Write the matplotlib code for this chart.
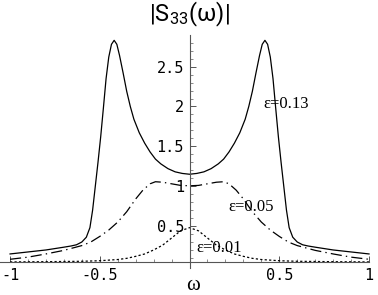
import matplotlib
matplotlib.use("Agg")
import matplotlib.pyplot as plt
from matplotlib.ticker import FixedLocator, FixedFormatter

# ---- data ----
w_a = [-1.0, -0.9, -0.8, -0.7, -0.66, -0.63, -0.60, -0.575, -0.555, -0.54, -0.525, -0.51,
       -0.495, -0.48, -0.465, -0.45, -0.435, -0.42, -0.405, -0.39, -0.37, -0.35, -0.33,
       -0.31, -0.28, -0.25, -0.22, -0.19, -0.16, -0.12, -0.08, -0.04, 0.0,
       0.04, 0.08, 0.12, 0.16, 0.19, 0.22, 0.25, 0.28, 0.31, 0.33, 0.35, 0.37, 0.39,
       0.405, 0.42, 0.435, 0.45, 0.465, 0.48, 0.495, 0.51, 0.525, 0.54, 0.555, 0.575,
       0.60, 0.63, 0.66, 0.7, 0.8, 0.9, 1.0]
s_a = [0.15, 0.175, 0.20, 0.235, 0.25, 0.265, 0.30, 0.36, 0.48, 0.70, 1.00, 1.30,
       1.62, 1.98, 2.35, 2.62, 2.78, 2.83, 2.78, 2.64, 2.42, 2.19, 2.00,
       1.84, 1.67, 1.54, 1.43, 1.34, 1.28, 1.22, 1.18, 1.16, 1.15,
       1.16, 1.18, 1.22, 1.28, 1.34, 1.43, 1.54, 1.67, 1.84, 2.00, 2.19, 2.42, 2.64,
       2.78, 2.83, 2.78, 2.62, 2.35, 1.98, 1.62, 1.30, 1.00, 0.70, 0.48, 0.36,
       0.30, 0.265, 0.25, 0.235, 0.20, 0.175, 0.15]

w_b = [-1.0, -0.9, -0.8, -0.7, -0.6, -0.55, -0.5, -0.45, -0.4, -0.35, -0.3, -0.26,
       -0.22, -0.19, -0.15, -0.1, -0.05, 0.0, 0.05, 0.1, 0.15, 0.19, 0.22, 0.26,
       0.3, 0.35, 0.4, 0.45, 0.5, 0.55, 0.6, 0.7, 0.8, 0.9, 1.0]
s_b = [0.083, 0.11, 0.15, 0.195, 0.255, 0.30, 0.37, 0.45, 0.55, 0.68, 0.84, 0.95,
       1.03, 1.056, 1.05, 1.03, 1.01, 1.005, 1.01, 1.03, 1.05, 1.056, 1.03, 0.95,
       0.84, 0.68, 0.55, 0.45, 0.37, 0.30, 0.255, 0.195, 0.15, 0.11, 0.083]

w_c = [-1.0, -0.8, -0.6, -0.5, -0.4, -0.35, -0.3, -0.25, -0.2, -0.15, -0.1, -0.05, 0.0,
       0.05, 0.1, 0.15, 0.2, 0.25, 0.3, 0.35, 0.4, 0.5, 0.6, 0.8, 1.0]
s_c = [0.05, 0.053, 0.058, 0.065, 0.08, 0.095, 0.12, 0.15, 0.2, 0.26, 0.35, 0.44, 0.48,
       0.44, 0.35, 0.26, 0.2, 0.15, 0.12, 0.095, 0.08, 0.065, 0.058, 0.053, 0.05]

labels = ["\u03b5=0.13", "\u03b5=0.05", "\u03b5=0.01"]
label_pos = [(0.41, 2.03), (0.215, 0.74), (0.04, 0.225)]

x_ticks = [-1, -0.5, 0.5, 1]
x_ticklabels = ["-1", "-0.5", "0.5", "1"]
y_ticks = [0.5, 1, 1.5, 2, 2.5]
y_ticklabels = ["0.5", "1", "1.5", "2", "2.5"]

plt.rcParams['lines.scale_dashes'] = False

fig = plt.figure(figsize=(3.78, 2.95), dpi=100)
ax = fig.add_axes([0, 0, 1, 1])
ax.set_xlim(-1.056, 1.050)
ax.set_ylim(-0.365, 3.336)

lw = 0.9
ax.plot(w_a, s_a, color='black', lw=lw)
lb, = ax.plot(w_b, s_b, color='black', lw=lw)
lb.set_dashes([8.0, 3.0, 1.0, 3.0])
lc, = ax.plot(w_c, s_c, color='black', lw=lw)
lc.set_dashes([1.6, 1.6])

for t, (px, py) in zip(labels, label_pos):
    ax.text(px, py, t, ha='left', va='center', fontsize=12,
            family=['Liberation Serif', 'DejaVu Serif'])

# axes through the origin (Mathematica style)
for s in ['top', 'right']:
    ax.spines[s].set_visible(False)
ax.spines['bottom'].set_position(('data', 0.045))
ax.spines['bottom'].set_bounds(-1.056, 1.0)
ax.spines['left'].set_position(('data', 0.0))
ax.spines['left'].set_bounds(-0.03, 2.9)
for s in ['bottom', 'left']:
    ax.spines[s].set_linewidth(0.8)
    ax.spines[s].set_color('#555555')

ax.xaxis.set_major_locator(FixedLocator(x_ticks))
ax.xaxis.set_major_formatter(FixedFormatter(x_ticklabels))
ax.yaxis.set_major_locator(FixedLocator(y_ticks))
ax.yaxis.set_major_formatter(FixedFormatter(y_ticklabels))
xm = [i / 10 for i in range(-10, 11) if i % 5 != 0]
ym = [i / 10 for i in range(1, 29) if i % 5 != 0]
ax.xaxis.set_minor_locator(FixedLocator(xm))
ax.yaxis.set_minor_locator(FixedLocator(ym))
ax.tick_params(which='major', direction='in', length=4, width=0.7, color='#555555',
               labelsize=11, pad=4)
ax.tick_params(which='minor', direction='in', length=2.2, width=0.6, color='#777777')
for lab in ax.get_xticklabels() + ax.get_yticklabels():
    lab.set_family('DejaVu Sans Mono')

ax.text(0.0, 3.15, r'$\mathregular{|S_{33}(\omega)|}$', ha='center', va='center',
        fontsize=17, family='Roboto')
ax.text(0.02, -0.25, '\u03c9', ha='center', va='center', fontsize=15,
        family=['Liberation Serif', 'DejaVu Serif'])

fig.savefig('out.png', dpi=100)
